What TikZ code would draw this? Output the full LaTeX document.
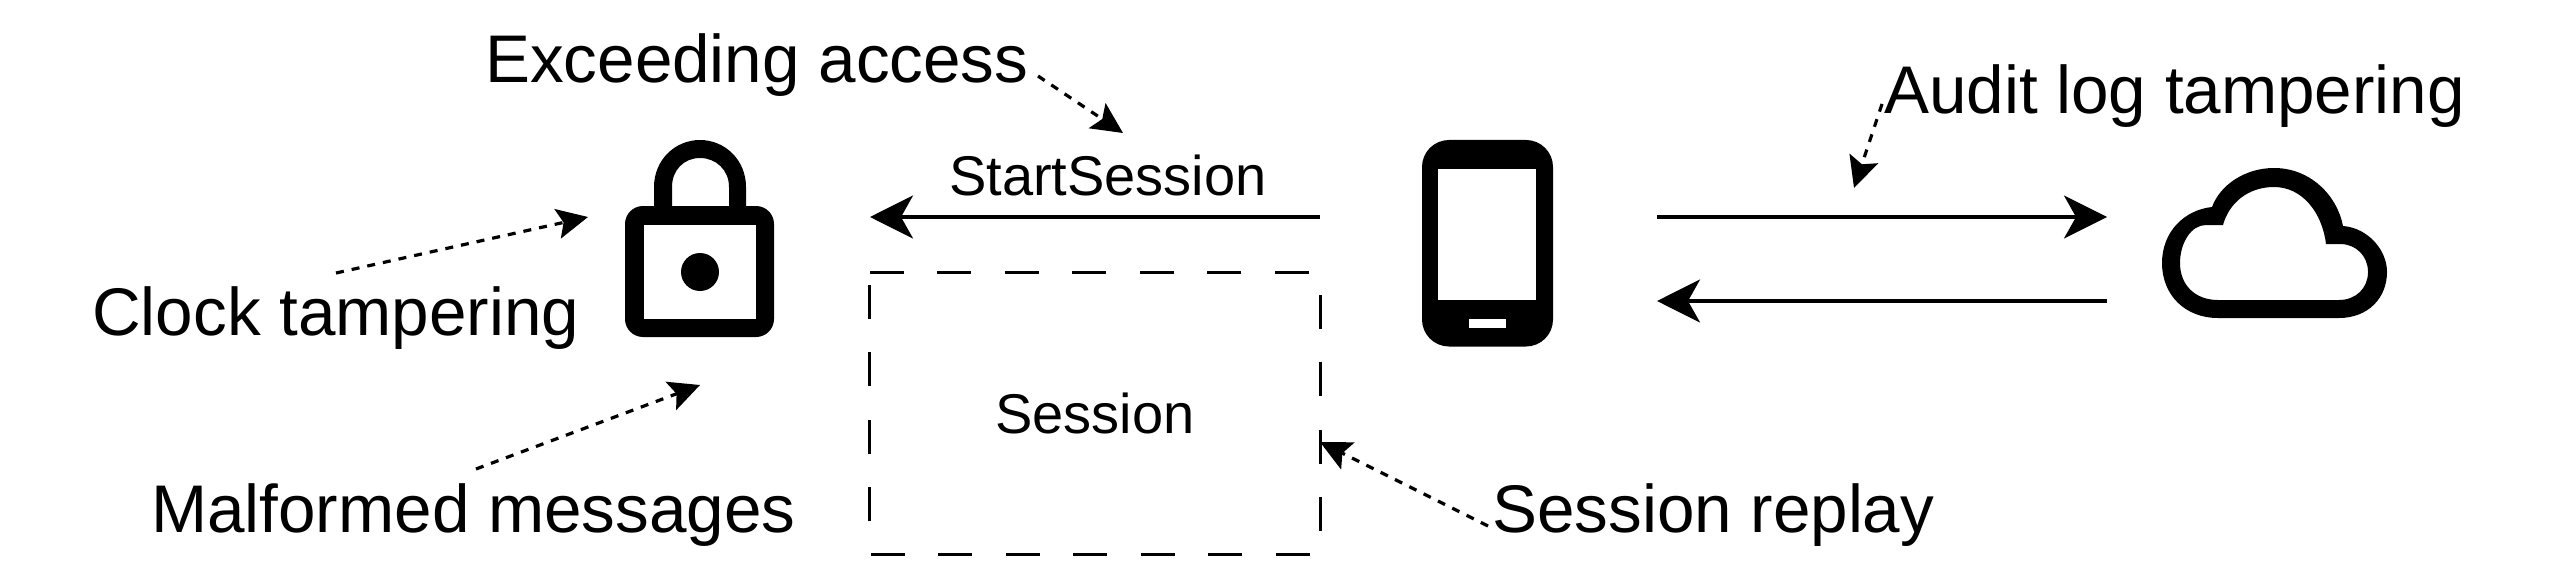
\documentclass[tikz,border=0pt]{standalone}
\usepackage{fontspec}
\setmainfont{Liberation Sans}
\usetikzlibrary{arrows.meta}
\tikzset{
  biglabel/.style={anchor=base west,inner sep=0pt,font=\fontsize{67.4}{72}\selectfont},
  smalllabel/.style={inner sep=0pt,font=\fontsize{56}{60}\selectfont},
  flow/.style={line width=3.6pt,-{Stealth[length=43pt,width=43pt,inset=12pt]}},
  threat/.style={line width=3.2pt,dash pattern=on 8pt off 8pt,-{Stealth[length=31pt,width=30pt,inset=6pt]}},
  sessionbox/.style={line width=3pt,dash pattern=on 34pt off 33.5pt},
  icon/.style={fill=black,draw=none,even odd rule}
}
\begin{document}
\begin{tikzpicture}[x=1pt,y=-1pt]
\useasboundingbox (0,0) rectangle (2554,575);
% lock
\fill[icon] (654,207) -- (654,187) .. controls (654,160) and (675,140) .. (700,140) .. controls (725,140) and (746,160) .. (746,187) -- (746,207) -- (729,207) -- (729,187) .. controls (729,170) and (716,158) .. (700,158) .. controls (684,158) and (672,170) .. (672,187) -- (672,207) -- cycle;
\fill[icon,rounded corners=18pt] (625,206) rectangle (774,337);
\fill[white] (644,225) rectangle (756,319);
\fill[black] (700,272) circle (19);
% phone
\fill[icon,rounded corners=27pt] (1422,140) rectangle (1553,346.5);
\fill[white] (1438,169) rectangle (1536,300);
\fill[white] (1469,319) rectangle (1506,327.5);
% cloud
\fill[icon] (2218,318) -- (2339,318) .. controls (2368,318) and (2387,298) .. (2387,272) .. controls (2387,250) and (2368,228) .. (2343,226) .. controls (2337,195) and (2310,168) .. (2274,168) .. controls (2245,168) and (2220,185) .. (2212,207) .. controls (2184,210) and (2162,232) .. (2162,263) .. controls (2162,295) and (2185,318) .. (2218,318) -- cycle
 (2218,300) -- (2339,300) .. controls (2356,300) and (2368,288) .. (2368,272) .. controls (2368,256) and (2356,244) .. (2340,244) -- (2326,244) .. controls (2322,212) and (2302,187) .. (2274,187) .. controls (2248,187) and (2229,203) .. (2223,225) -- (2206,225) .. controls (2191,225) and (2180,243) .. (2180,263) .. controls (2180,285) and (2195,300) .. (2218,300) -- cycle;
% labels
\node[biglabel] (exceed) at (485,82.5) {Exceeding access};
\node[biglabel] (clock) at (92,335) {Clock tampering};
\node[biglabel] (malformed) at (151,532) {Malformed messages};
\node[biglabel] (replay) at (1492,532) {Session replay};
\node[biglabel] (audit) at (1884,114) {Audit log tampering};
\node[smalllabel,anchor=base west] (start) at (949,195) {StartSession};
% session box
\node[smalllabel,minimum width=450pt,minimum height=281pt] (box) at (1095,413.5) {Session};
\draw[sessionbox] (box.north west) -- (box.north east) -- (box.south east) -- (box.south west) -- cycle;
% flow arrows
\coordinate (phoneWestTop) at (1320,217);
\coordinate (lockEast) at (870,217);
\coordinate (phoneEastTop) at (1657,217);
\coordinate (cloudWestTop) at (2107,217);
\coordinate (cloudWestLow) at (2107,301);
\coordinate (phoneEastLow) at (1657,301);
\draw[flow] (phoneWestTop) -- (lockEast);
\draw[flow] (phoneEastTop) -- (cloudWestTop);
\draw[flow] (cloudWestLow) -- (phoneEastLow);
% threat arrows
\coordinate (clockStart) at (336,273);
\coordinate (clockTip) at (588,217);
\coordinate (malStart) at (476,469);
\coordinate (malTip) at (700,385);
\coordinate (exStart) at (1038,76);
\coordinate (exTip) at (1123,133);
\coordinate (repStart) at (1488,526);
\coordinate (repTip) at (1320,442);
\coordinate (audStart) at (1882,104);
\coordinate (audTip) at (1854,188);
\draw[threat] (clockStart) -- (clockTip);
\draw[threat] (malStart) -- (malTip);
\draw[threat] (exStart) -- (exTip);
\draw[threat] (repStart) -- (repTip);
\draw[threat] (audStart) -- (audTip);
\end{tikzpicture}
\end{document}
